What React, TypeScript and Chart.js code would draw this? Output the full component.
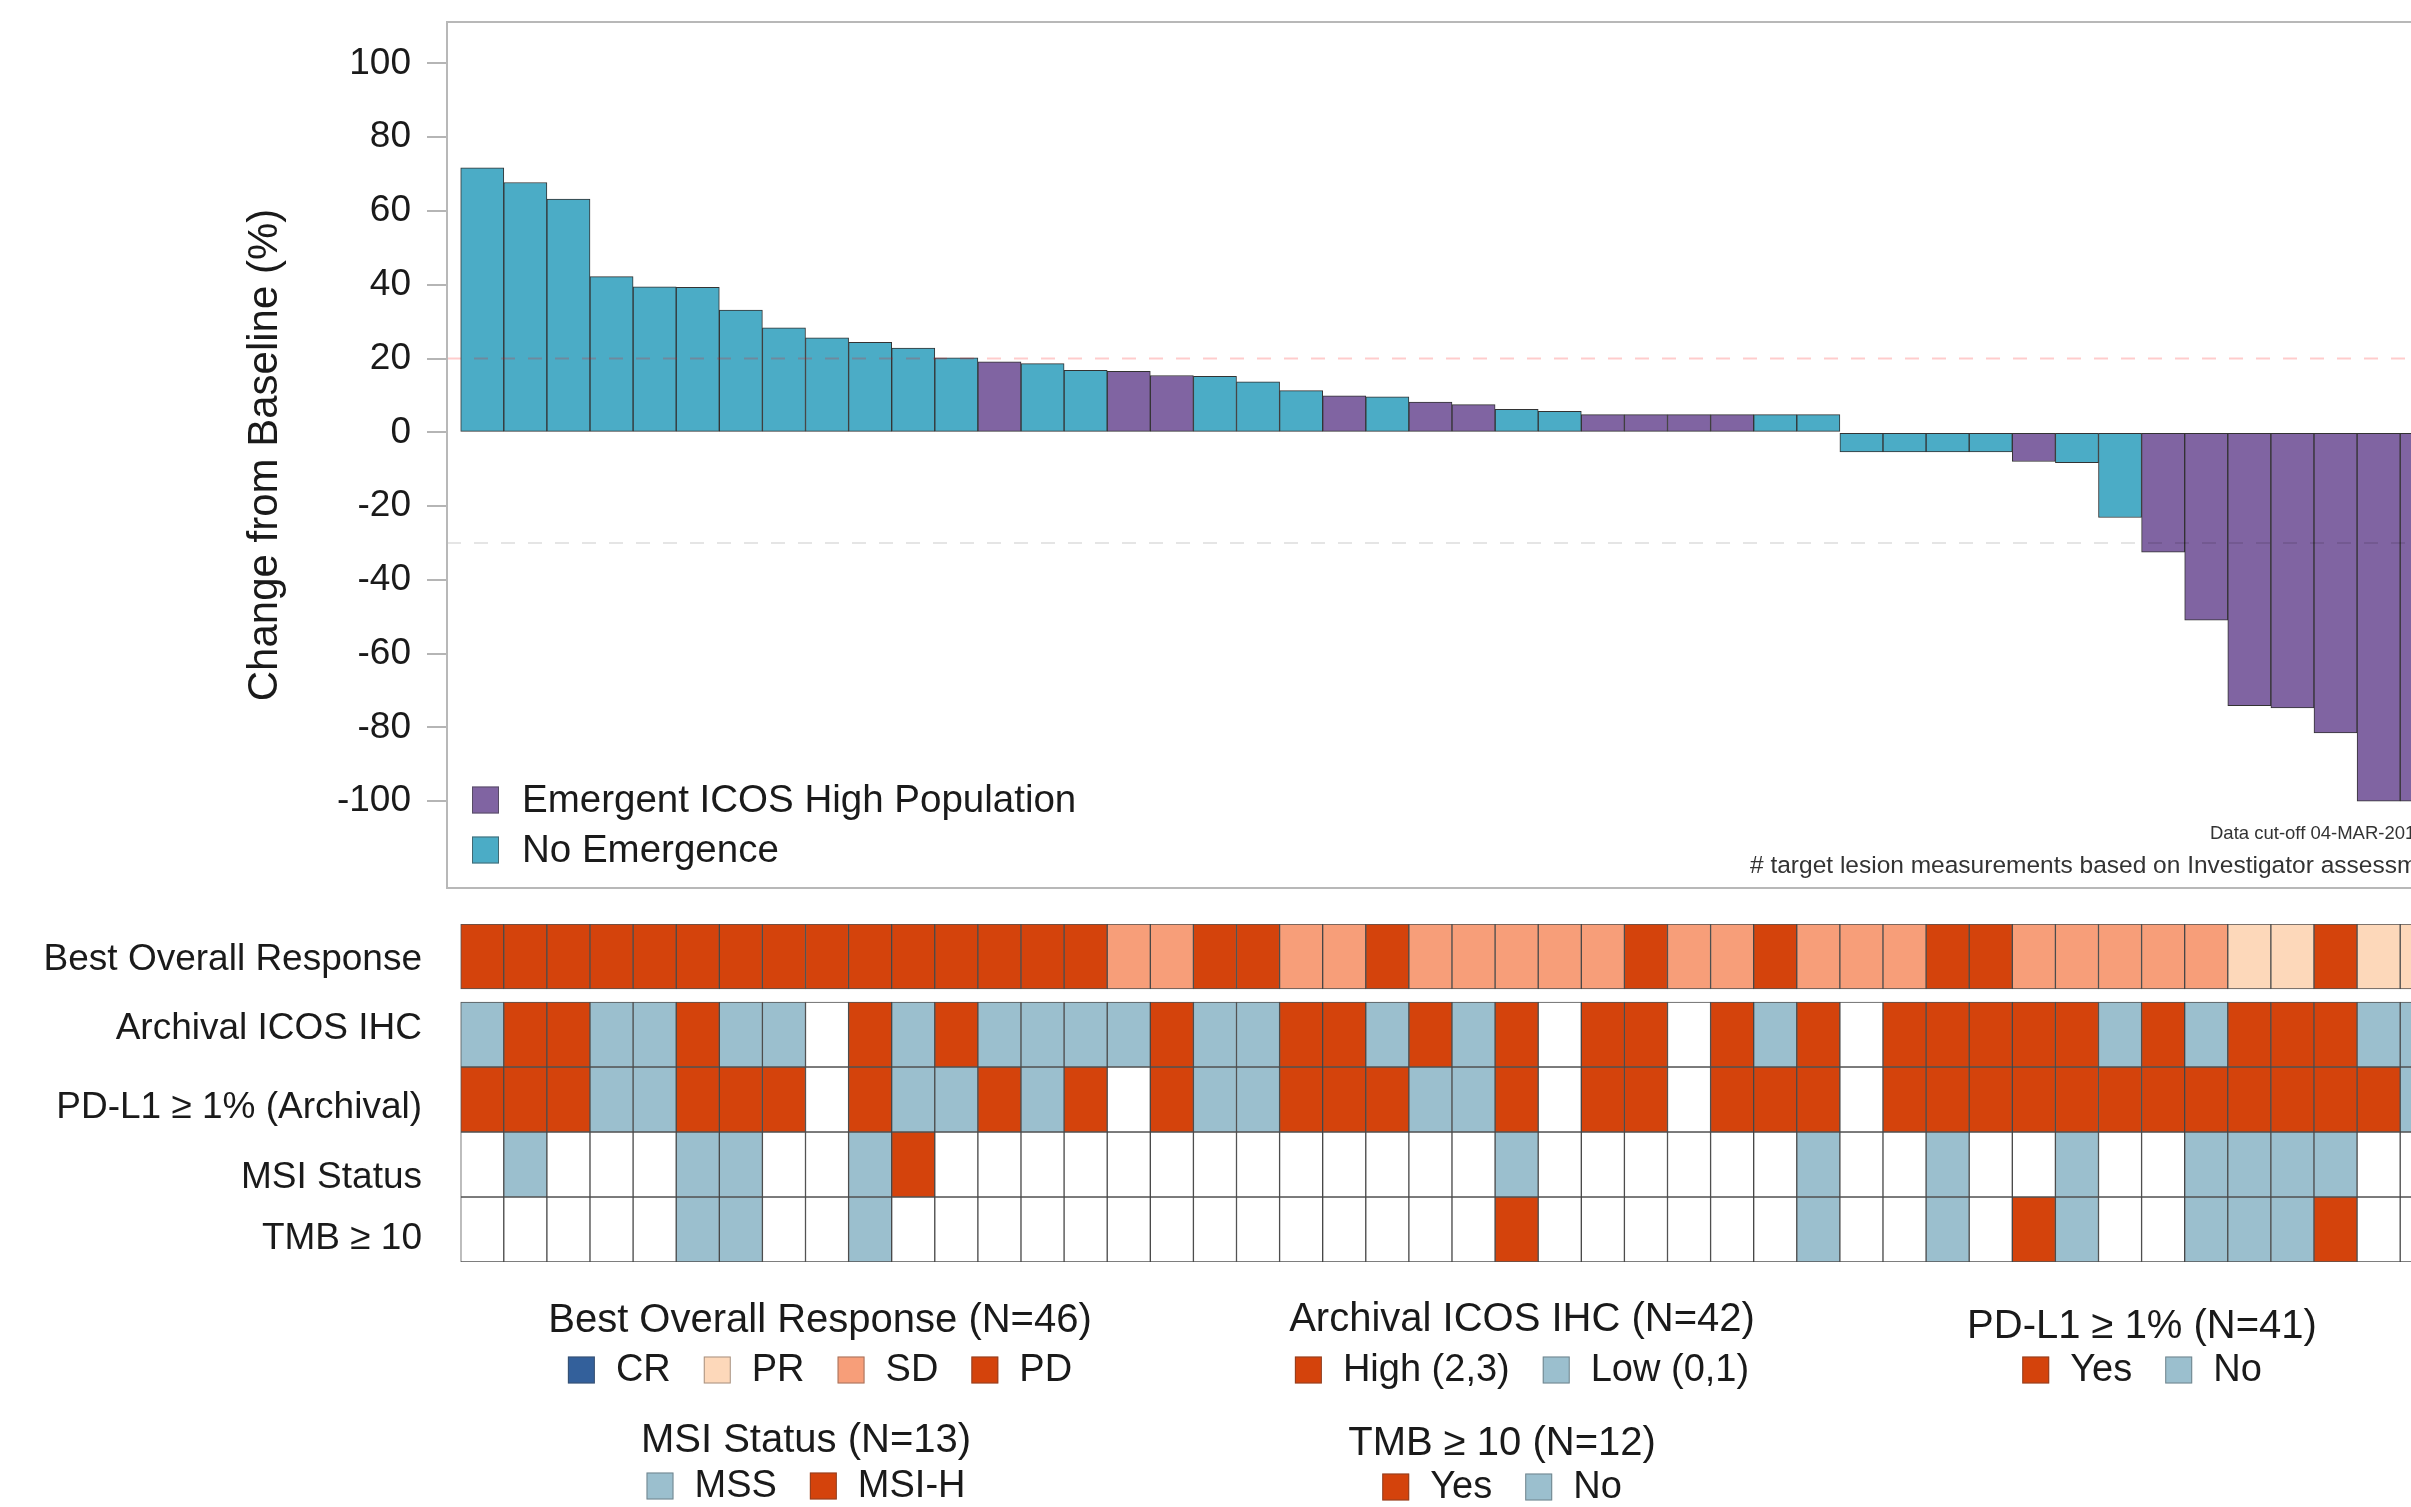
import React, { useEffect, useRef } from "react";
import { Chart, registerables } from "chart.js";

Chart.register(...registerables);

const FONT = '"Liberation Sans", Arial, Helvetica, sans-serif';
const TEXT = "#1a1a1a";

// ---------------- data ----------------
const changeFromBaseline = [
  71.7, 67.7, 63.2, 42.2, 39.4, 39.3, 33.1, 28.3, 25.6, 24.4, 22.8, 20.2,
  19.1, 18.6, 16.8, 16.5, 15.4, 15.2, 13.7, 11.3, 9.9, 9.6, 8.2, 7.5, 6.2,
  5.7, 4.8, 4.8, 4.8, 4.8, 4.8, 4.8, -5.3, -5.3, -5.3, -5.3, -7.9, -8.2,
  -23.1, -32.5, -50.9, -74.1, -74.7, -81.5, -100, -100,
];

const emergentICOSHigh = [
  false, false, false, false, false, false, false, false, false, false, false, false,
  true, false, false, true, true, false, false, false, true, false, true, true,
  false, false, true, true, true, true, false, false, false, false, false, false,
  true, false, false, true, true, true, true, true, true, true,
];

const yTickValues = [-100, -80, -60, -40, -20, 0, 20, 40, 60, 80, 100];
const referenceLines = [20, -30];

const bestOverallResponse = [
  "PD", "PD", "PD", "PD", "PD", "PD", "PD", "PD", "PD", "PD", "PD", "PD", "PD", "PD", "PD",
  "SD", "SD", "PD", "PD", "SD", "SD", "PD", "SD", "SD", "SD", "SD", "SD", "PD", "SD", "SD",
  "PD", "SD", "SD", "SD", "PD", "PD", "SD", "SD", "SD", "SD", "SD", "PR", "PR", "PD", "PR", "PR",
];
const archivalICOS = [
  "Low", "High", "High", "Low", "Low", "High", "Low", "Low", "NA", "High",
  "Low", "High", "Low", "Low", "Low", "Low", "High", "Low", "Low", "High",
  "High", "Low", "High", "Low", "High", "NA", "High", "High", "NA", "High",
  "Low", "High", "NA", "High", "High", "High", "High", "High", "Low", "High",
  "Low", "High", "High", "High", "Low", "Low",
];
const pdl1Archival = [
  "Yes", "Yes", "Yes", "No", "No", "Yes", "Yes", "Yes", "NA", "Yes",
  "No", "No", "Yes", "No", "Yes", "NA", "Yes", "No", "No", "Yes",
  "Yes", "Yes", "No", "No", "Yes", "NA", "Yes", "Yes", "NA", "Yes",
  "Yes", "Yes", "NA", "Yes", "Yes", "Yes", "Yes", "Yes", "Yes", "Yes",
  "Yes", "Yes", "Yes", "Yes", "Yes", "No",
];
const msiStatus = [
  "NA", "MSS", "NA", "NA", "NA", "MSS", "MSS", "NA", "NA", "MSS",
  "MSI-H", "NA", "NA", "NA", "NA", "NA", "NA", "NA", "NA", "NA",
  "NA", "NA", "NA", "NA", "MSS", "NA", "NA", "NA", "NA", "NA",
  "NA", "MSS", "NA", "NA", "MSS", "NA", "NA", "MSS", "NA", "NA",
  "MSS", "MSS", "MSS", "MSS", "NA", "NA",
];
const tmb10 = [
  "NA", "NA", "NA", "NA", "NA", "No", "No", "NA", "NA", "No",
  "NA", "NA", "NA", "NA", "NA", "NA", "NA", "NA", "NA", "NA",
  "NA", "NA", "NA", "NA", "Yes", "NA", "NA", "NA", "NA", "NA",
  "NA", "No", "NA", "NA", "No", "NA", "Yes", "No", "NA", "NA",
  "No", "No", "No", "Yes", "NA", "NA",
];

const rowLabels = [
  "Best Overall Response",
  "Archival ICOS IHC",
  "PD-L1 \u2265 1% (Archival)",
  "MSI Status",
  "TMB \u2265 10",
];
const rowValues = [bestOverallResponse, archivalICOS, pdl1Archival, msiStatus, tmb10];

// ---------------- styles ----------------
const PURPLE = "#8064A2";
const TEAL = "#4BACC6";
const ORANGE = "#D4430C";
const LIGHTBLUE = "#9BBFCE";
const CELL_COLORS: Record<string, string> = {
  CR: "#33609B",
  PR: "#FDD8BA",
  SD: "#F79E79",
  PD: ORANGE,
  High: ORANGE,
  Low: LIGHTBLUE,
  Yes: ORANGE,
  No: LIGHTBLUE,
  MSS: LIGHTBLUE,
  "MSI-H": ORANGE,
  NA: "#FFFFFF",
};

const legendGroups = [
  { title: "Best Overall Response (N=46)", items: ["CR", "PR", "SD", "PD"], keys: ["CR", "PR", "SD", "PD"], cx: 820, ty: 421, iy: 470 },
  { title: "Archival ICOS IHC (N=42)", items: ["High (2,3)", "Low (0,1)"], keys: ["High", "Low"], cx: 1522, ty: 420, iy: 470 },
  { title: "PD-L1 \u2265 1% (N=41)", items: ["Yes", "No"], keys: ["Yes", "No"], cx: 2142, ty: 427, iy: 470 },
  { title: "MSI Status (N=13)", items: ["MSS", "MSI-H"], keys: ["MSS", "MSI-H"], cx: 806, ty: 541, iy: 586 },
  { title: "TMB \u2265 10 (N=12)", items: ["Yes", "No"], keys: ["Yes", "No"], cx: 1502, ty: 544, iy: 587 },
];

const CANVAS_W = 2480;
const TOP_H = 900;
const BOT_H = 607;
const X_MIN = -0.818;
const X_MAX = 45.818;
const PAD_LEFT = 240;
const AXIS_W = 207;
const PAD_RIGHT = 23;

const rowStarts = [0, 1.2, 2.2, 3.2, 4.2];
const labelNudge = [0.05, -0.09, 0.13, 0.2, 0.15];

export default function App() {
  const topRef = useRef<HTMLCanvasElement | null>(null);
  const botRef = useRef<HTMLCanvasElement | null>(null);

  useEffect(() => {
    if (!topRef.current || !botRef.current) return;

    const topOverlay = {
      id: "topOverlay",
      afterDatasetsDraw(chart: any) {
        const { ctx, chartArea, scales } = chart;
        ctx.save();
        ctx.lineWidth = 2;
        ctx.setLineDash([14, 13]);
        referenceLines.forEach((v, k) => {
          const y = scales.y.getPixelForValue(v);
          ctx.strokeStyle = k === 0 ? "rgba(255,0,0,0.2)" : "rgba(0,0,0,0.1)";
          ctx.beginPath();
          ctx.moveTo(chartArea.left, y);
          ctx.lineTo(chartArea.right, y);
          ctx.stroke();
        });
        ctx.restore();
      },
      afterDraw(chart: any) {
        const { ctx, chartArea } = chart;
        ctx.save();
        ctx.strokeStyle = "#b8b8b8";
        ctx.lineWidth = 2;
        ctx.strokeRect(chartArea.left, chartArea.top, chartArea.right - chartArea.left, chartArea.bottom - chartArea.top);
        // legend inside the plot
        const ds = chart.data.datasets;
        ctx.font = `38.5px ${FONT}`;
        ctx.textBaseline = "middle";
        ctx.textAlign = "left";
        ds.forEach((d: any, i: number) => {
          const cy = 800 + i * 50;
          ctx.fillStyle = d.backgroundColor;
          ctx.fillRect(472, cy - 13.5, 27, 27);
          ctx.strokeStyle = "rgba(60,60,60,0.6)";
          ctx.lineWidth = 1;
          ctx.strokeRect(472.5, cy - 13, 26, 26);
          ctx.fillStyle = TEXT;
          ctx.fillText(d.label, 522, cy + 1);
        });
        // notes
        ctx.fillStyle = "#333";
        ctx.font = `18.5px ${FONT}`;
        ctx.fillText("Data cut-off 04-MAR-2019", 2210, 834);
        ctx.font = `24.5px ${FONT}`;
        ctx.fillText("# target lesion measurements based on Investigator assessment", 1750, 866);
        ctx.restore();
      },
    };

    const barStyle = {
      borderColor: "#333333",
      borderWidth: 1,
      borderSkipped: false,
      grouped: false,
      barPercentage: 1,
      categoryPercentage: 1,
    };

    const top = new Chart(topRef.current, {
      type: "bar",
      data: {
        datasets: [
          {
            label: "Emergent ICOS High Population",
            data: changeFromBaseline.map((v, i) => ({ x: i, y: emergentICOSHigh[i] ? v : null })),
            backgroundColor: PURPLE,
            ...barStyle,
          },
          {
            label: "No Emergence",
            data: changeFromBaseline.map((v, i) => ({ x: i, y: emergentICOSHigh[i] ? null : v })),
            backgroundColor: TEAL,
            ...barStyle,
          },
        ],
      } as any,
      options: {
        responsive: false,
        animation: false,
        events: [],
        layout: { autoPadding: false, padding: { left: PAD_LEFT, top: 22, right: PAD_RIGHT, bottom: 12 } },
        plugins: { legend: { display: false }, tooltip: { enabled: false } },
        scales: {
          x: { type: "linear", offset: false, min: X_MIN, max: X_MAX, display: false },
          y: {
            type: "linear",
            min: -123.5,
            max: 111.2,
            afterBuildTicks: (s: any) => {
              s.ticks = yTickValues.map((v) => ({ value: v }));
            },
            afterFit: (s: any) => {
              s.width = AXIS_W;
              s.paddingTop = 0;
              s.paddingBottom = 0;
            },
            ticks: { font: { family: FONT, size: 37 }, color: TEXT, padding: 16 },
            grid: { drawOnChartArea: false, drawTicks: true, tickLength: 20, color: "#b5b5b5", lineWidth: 2 },
            border: { display: false },
            title: {
              display: true,
              text: "Change from Baseline (%)",
              font: { family: FONT, size: 42 },
              color: TEXT,
              padding: 0,
            },
          },
        },
      } as any,
      plugins: [topOverlay],
    });

    const legendPlugin = {
      id: "heatLegend",
      afterDraw(chart: any) {
        const { ctx } = chart;
        ctx.save();
        ctx.textBaseline = "middle";
        legendGroups.forEach((g) => {
          ctx.font = `40px ${FONT}`;
          ctx.textAlign = "center";
          ctx.fillStyle = TEXT;
          ctx.fillText(g.title, g.cx, g.ty);
          ctx.font = `38px ${FONT}`;
          const sq = 27, gapText = 21, gapItem = 33;
          const widths = g.items.map((t) => ctx.measureText(t).width);
          const total = widths.reduce((a, w) => a + sq + gapText + w, 0) + gapItem * (g.items.length - 1);
          let x = g.cx - total / 2;
          ctx.textAlign = "left";
          g.items.forEach((t, k) => {
            ctx.fillStyle = CELL_COLORS[g.keys[k]];
            ctx.fillRect(x, g.iy - sq / 2, sq, sq);
            ctx.strokeStyle = "rgba(60,60,60,0.45)";
            ctx.lineWidth = 1;
            ctx.strokeRect(x + 0.5, g.iy - sq / 2 + 0.5, sq - 1, sq - 1);
            ctx.fillStyle = TEXT;
            ctx.fillText(t, x + sq + gapText, g.iy + 1);
            x += sq + gapText + widths[k] + gapItem;
          });
        });
        ctx.restore();
      },
    };

    const bot = new Chart(botRef.current, {
      type: "bar",
      data: {
        datasets: rowValues.map((vals, r) => ({
          label: rowLabels[r],
          data: vals.map((_, i) => ({ x: i, y: [rowStarts[r], rowStarts[r] + 1] })),
          backgroundColor: vals.map((v) => CELL_COLORS[v]),
          borderColor: "rgba(40,40,40,0.8)",
          borderWidth: 1,
          borderSkipped: false,
          grouped: false,
          barPercentage: 1,
          categoryPercentage: 1,
        })),
      } as any,
      options: {
        responsive: false,
        animation: false,
        events: [],
        layout: { autoPadding: false, padding: { left: 0, top: 24, right: PAD_RIGHT, bottom: BOT_H - 362 } },
        plugins: { legend: { display: false }, tooltip: { enabled: false } },
        scales: {
          x: { type: "linear", offset: false, min: X_MIN, max: X_MAX, display: false },
          y: {
            type: "linear",
            reverse: true,
            min: 0,
            max: 5.2,
            afterBuildTicks: (s: any) => {
              s.ticks = rowStarts.map((v, r) => ({ value: v + 0.5 + labelNudge[r] }));
            },
            afterFit: (s: any) => {
              s.width = PAD_LEFT + AXIS_W;
              s.paddingTop = 0;
              s.paddingBottom = 0;
            },
            ticks: {
              font: { family: FONT, size: 37 },
              color: TEXT,
              padding: 25,
              callback: (_v: any, i: number) => rowLabels[i],
            },
            grid: { display: false, drawTicks: false },
            border: { display: false },
          },
        },
      } as any,
      plugins: [legendPlugin],
    });

    return () => {
      top.destroy();
      bot.destroy();
    };
  }, []);

  return (
    <div
      style={{
        position: "fixed",
        left: 0,
        top: 0,
        width: 2411,
        height: 1507,
        overflow: "hidden",
        background: "#ffffff",
      }}
    >
      <canvas
        ref={topRef}
        width={CANVAS_W}
        height={TOP_H}
        style={{ position: "absolute", left: 0, top: 0, width: CANVAS_W, height: TOP_H }}
      />
      <canvas
        ref={botRef}
        width={CANVAS_W}
        height={BOT_H}
        style={{ position: "absolute", left: 0, top: TOP_H, width: CANVAS_W, height: BOT_H }}
      />
    </div>
  );
}
